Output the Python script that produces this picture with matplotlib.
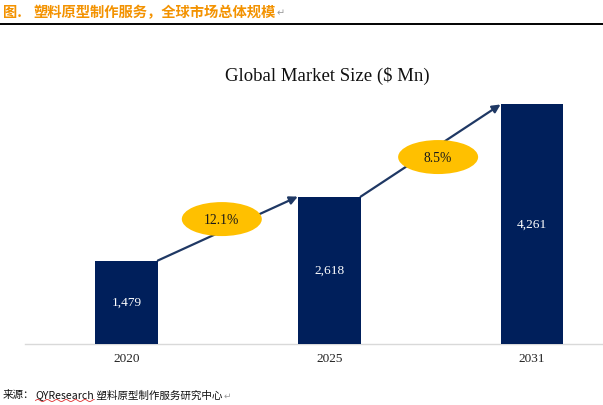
import numpy as np
import matplotlib
matplotlib.use("Agg")
import matplotlib.pyplot as plt
from matplotlib.patches import Ellipse
from matplotlib.transforms import Affine2D

# ---- data ----
years = ["2020", "2025", "2031"]
values = [1479, 2618, 4261]
value_labels = ["1,479", "2,618", "4,261"]
growth_labels = ["12.1%", "8.5%"]

title = "Global Market Size ($ Mn)"
header_prefix = "图."
header = "塑料原型制作服务，全球市场总体规模"
source_parts = ["来源：", "QYResearch", " 塑料原型制作服务研究中心"]

NAVY = "#001F5B"
GOLD = "#FFC000"
ORANGE = "#F39200"
SERIF = ["Liberation Serif", "DejaVu Serif"]
CJK = ["Noto Sans CJK SC", "DejaVu Sans"]

W, H = 603, 406
fig = plt.figure(figsize=(W / 100, H / 100), dpi=100)

# axes in pixel geometry
ax_left, ax_right = 25, 603
ax_base, ax_top = 344.5, 40
ax = fig.add_axes([ax_left / W, (H - ax_base) / H, (ax_right - ax_left) / W, (ax_base - ax_top) / H])

x = np.arange(len(years))
bw = 0.31
ax.bar(x, values, width=bw, color=NAVY, zorder=3)
ax.set_xlim(-0.5, 2.35)
ax.set_ylim(0, 5428)

for s in ["top", "right", "left"]:
    ax.spines[s].set_visible(False)
ax.spines["bottom"].set_color("#D9D9D9")
ax.spines["bottom"].set_linewidth(1.0)
ax.set_yticks([])
ax.set_xticks(x)
ax.set_xticklabels(years, fontfamily=SERIF, fontsize=9.5, color="#222222")
ax.tick_params(axis="x", length=0, pad=6)

for xi, v, lab in zip(x, values, value_labels):
    ax.text(xi, v / 2, lab, ha="center", va="center", color="white",
            fontfamily=SERIF, fontsize=9.6, zorder=4)

# arrows between bars
ell_offsets = [(-6, 9.5), (7.5, -6.5)]
for i in range(len(values) - 1):
    p0 = (x[i] + bw / 2, values[i])
    p1 = (x[i + 1] - bw / 2, values[i + 1])
    ax.annotate("", xy=p1, xytext=p0,
                arrowprops=dict(arrowstyle="-|>", color="#1F3864", lw=1.6,
                                mutation_scale=12, shrinkA=0, shrinkB=0),
                zorder=2)
    mid = ((p0[0] + p1[0]) / 2, (p0[1] + p1[1]) / 2)
    cx, cy = ax.transData.transform(mid)
    cx += ell_offsets[i][0]
    cy += ell_offsets[i][1]
    e = Ellipse((0, 0), 80, 34, facecolor=GOLD, edgecolor="none",
                transform=Affine2D().translate(cx, cy), zorder=5)
    fig.add_artist(e)
    fig.text(cx / W, cy / H, growth_labels[i], ha="center", va="center",
             fontfamily=SERIF, fontsize=9.8, color="#1A1A1A", zorder=6)

# title
fig.text(327.5 / W, 1 - 75.5 / H, title, ha="center", va="center",
         fontfamily=SERIF, fontsize=13.5, color="#111111")

# header
fig.canvas.draw()
renderer = fig.canvas.get_renderer()
fig.text(3 / W, 1 - 12.5 / H, header_prefix, ha="left", va="center",
         fontfamily=CJK, fontsize=10.3, fontweight="bold", color=ORANGE)
ht = fig.text(33 / W, 1 - 12.5 / H, header, ha="left", va="center",
              fontfamily=CJK, fontsize=10.3, fontweight="bold", color=ORANGE)
bb = ht.get_window_extent(renderer)
fig.text((bb.x1 + 1) / W, 1 - 13 / H, "↵", ha="left", va="center",
         fontfamily=["DejaVu Sans"], fontsize=7, color="#9A9A9A")
fig.add_artist(plt.Line2D([0, 1], [1 - 24.5 / H, 1 - 24.5 / H],
                          transform=fig.transFigure, color="black", lw=1.4))

# footer
xpos = 3
for k, part in enumerate(source_parts):
    t = fig.text(xpos / W, 1 - 395.5 / H, part, ha="left", va="center",
                 fontfamily=CJK, fontsize=7.6, fontstyle="italic", color="#111111")
    b = t.get_window_extent(renderer)
    if part == "QYResearch":
        xs = np.linspace(b.x0, b.x1, 120)
        ys = (H - 401.5) + 1.0 * np.sin((xs - b.x0) / 1.5)
        fig.add_artist(plt.Line2D(xs / W, ys / H, transform=fig.transFigure,
                                  color="#E03030", lw=0.6))
    xpos = b.x1 + (1 if k == 0 else 0)
fig.text((xpos + 1) / W, 1 - 396 / H, "↵", ha="left", va="center",
         fontfamily=["DejaVu Sans"], fontsize=6.5, color="#9A9A9A")

fig.savefig("out.png", dpi=100)
